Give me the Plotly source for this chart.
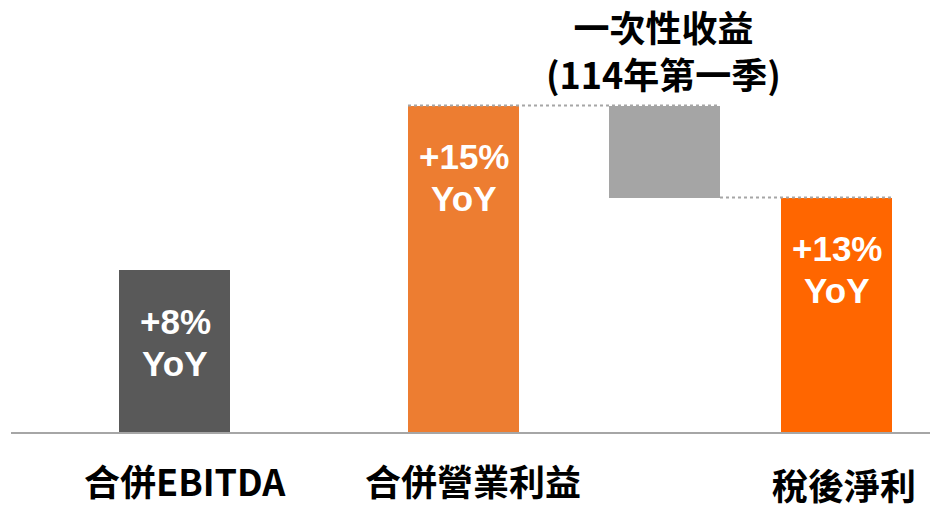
import plotly.graph_objects as go

# ---- data ----
categories = ["合併EBITDA", "合併營業利益", "一次性收益", "稅後淨利"]
x_pos = [174.5, 463.5, 664.5, 836.5]          # category positions (uneven spacing as in the original)
values = [49.6, 100.0, 28.2, 71.8]             # index, 合併營業利益 = 100
yoy_labels = ["+8%", "+15%", "", "+13%"]
title_lines = ["一次性收益", "(114年第一季)"]

colors = ["#595959", "#ED7D31", "#A5A5A5", "#FF6600"]
bar_w = 111

# gray floating bar hangs from operating income down to net income
gain_base = values[1] - values[2]

fig = go.Figure()
bases = [0, 0, gain_base, 0]
fig.add_trace(go.Bar(
    x=x_pos, y=values, base=bases, width=bar_w,
    marker=dict(color=colors, line=dict(width=0)),
    hoverinfo="skip", showlegend=False,
))

# dotted connectors
left2 = x_pos[1] - bar_w / 2
right3 = x_pos[2] + bar_w / 2
right4 = x_pos[3] + bar_w / 2
dot = dict(color="#A6A6A6", width=2, dash="dot")
fig.add_shape(type="line", xref="x", yref="y", x0=left2, x1=right3,
              y0=values[1], y1=values[1], line=dot)
fig.add_shape(type="line", xref="x", yref="y", x0=right3, x1=right4,
              y0=gain_base, y1=gain_base, line=dot)

ann = []
latin = "Liberation Sans, Arial, sans-serif"
cjk = "Noto Sans CJK TC, sans-serif"
# YoY labels inside bars
tops = [values[0], values[1], None, values[3]]
for i, lab in enumerate(yoy_labels):
    if not lab:
        continue
    ann.append(dict(x=x_pos[i], y=tops[i], xref="x", yref="y", text=f"<b>{lab}</b>",
                    showarrow=False, yshift=-51, xshift=1,
                    font=dict(family=latin, size=35, color="white")))
    ann.append(dict(x=x_pos[i], y=tops[i], xref="x", yref="y", text="<b>YoY</b>",
                    showarrow=False, yshift=-93, xshift=0,
                    font=dict(family=latin, size=35, color="white")))

# category labels below axis
cat_shift = [(10, 0), (9, 0), None, (7, -4)]
for i, c in enumerate(categories):
    if cat_shift[i] is None:
        continue
    dx, dy = cat_shift[i]
    ann.append(dict(x=x_pos[i], y=0, xref="x", yref="y", text=f"<b>{c}</b>",
                    showarrow=False, yshift=-48 + dy, xshift=dx,
                    font=dict(family=cjk, size=36, color="black")))

# title above gray bar (two lines)
ann.append(dict(x=x_pos[2], y=values[1], xref="x", yref="y",
                text="<br>".join(f"<b>{t}</b>" for t in title_lines),
                showarrow=False, yshift=56, xshift=-1,
                font=dict(family=cjk, size=36, color="black")))

y_max = 432 / 326.5 * 100
fig.update_layout(
    width=930, height=505,
    margin=dict(l=11, r=0, t=0, b=73),
    paper_bgcolor="white", plot_bgcolor="white",
    xaxis=dict(range=[11, 930], showgrid=False, zeroline=False, showticklabels=False,
               showline=True, linecolor="#A6A6A6", linewidth=2, ticks=""),
    yaxis=dict(range=[0, y_max], showgrid=False, zeroline=False, showticklabels=False,
               showline=False, ticks=""),
    annotations=ann,
    bargap=0,
)

fig.write_html("out.html", config={"displayModeBar": False},
               post_script="document.body.style.margin='0';document.body.style.overflow='hidden';")
